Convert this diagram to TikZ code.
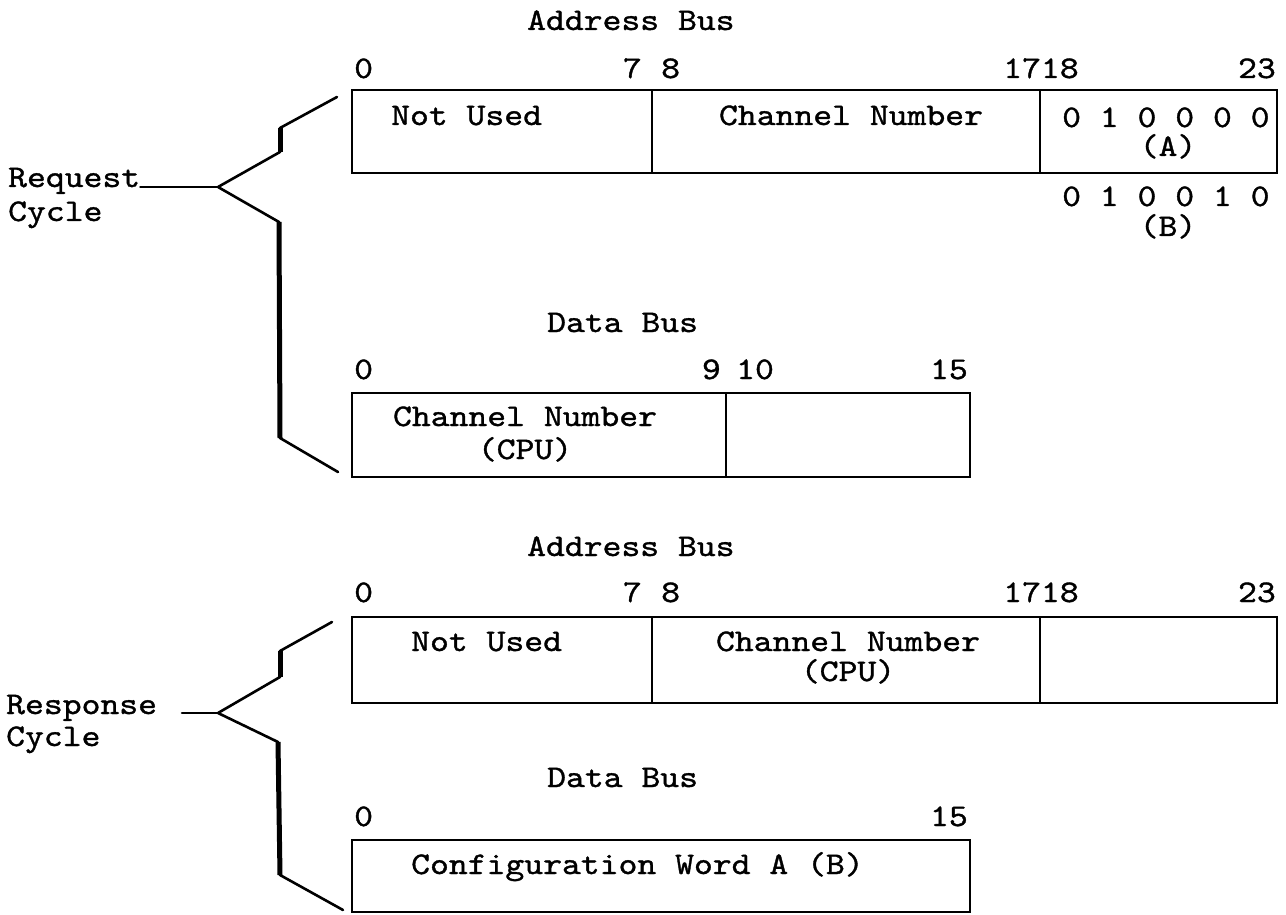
\documentclass[tikz,border=0pt]{standalone}
\usepackage{fontspec}
\newfontfamily\typefont{lmmono10-regular}[Extension=.otf,FakeStretch=1.14,FakeBold=1.1]

\begin{document}
\begin{tikzpicture}[x=1pt,y=1pt,yscale=-1,xscale=1,
  cell/.style={draw,line width=2.7pt,inner sep=0pt,outer sep=0pt,anchor=north west},
  txt/.style={font=\typefont\fontsize{31.5}{34}\selectfont,inner sep=0pt,anchor=base},
  arm/.style={line width=2.6pt,line cap=round,line join=round},
  stem/.style={line width=5pt}]
\useasboundingbox (0,0) rectangle (1286,915);
%Shape: Rectangle (request, address bus)
\node[cell,minimum width=300pt,minimum height=83pt] (rqnu) at (352,90) {};
\node[cell,minimum width=388pt,minimum height=83pt] (rqch) at (652,90) {};
\node[cell,minimum width=237pt,minimum height=83pt] (rqfn) at (1040,90) {};
%Shape: Rectangle (request, data bus)
\node[cell,minimum width=374pt,minimum height=84pt] (rqdc) at (352,393) {};
\node[cell,minimum width=244pt,minimum height=84pt] (rqdx) at (726,393) {};
%Shape: Rectangle (response, address bus)
\node[cell,minimum width=300pt,minimum height=86pt] (rsnu) at (352,617) {};
\node[cell,minimum width=388pt,minimum height=86pt] (rsch) at (652,617) {};
\node[cell,minimum width=237pt,minimum height=86pt] (rsfn) at (1040,617) {};
%Shape: Rectangle (response, data bus)
\node[cell,minimum width=618pt,minimum height=72pt] (rsdw) at (352,840) {};

% Text Node
\node[txt,anchor=base west] (rqab) at (527,30) {Address Bus};
\node[txt,anchor=base west] (rqb0) at (354,78) {0};
\node[txt,anchor=base east] (rqb7) at (642,78) {7};
\node[txt,anchor=base west] (rqb8) at (661,78) {8};
\node[txt] (rqb17) at (1041,78) {1718};
\node[txt,anchor=base east] (rqb23) at (1276,78) {23};
\node[txt,anchor=base west] at (391,125) {Not Used};
\node[txt] at (851,125) {Channel Number};
\node[txt,anchor=base west] (rqfa) at (1062,127) {0 1 0 0 0 0};
\node[txt] at (1168,156) {(A)};
\node[txt,anchor=base west] (rqfb) at (1062,206) {0 1 0 0 1 0};
\node[txt] at (1168,236) {(B)};
% Text Node
\node[txt,anchor=base west] (rqdb) at (547,332) {Data Bus};
\node[txt,anchor=base west] (rqd0) at (354,379) {0};
\node[txt,anchor=base east] (rqd9) at (721,379) {9};
\node[txt,anchor=base west] (rqd10) at (736,379) {10};
\node[txt,anchor=base east] (rqd15) at (968,379) {15};
\node[txt] at (525,426) {Channel Number};
\node[txt] at (525,459) {(CPU)};
% Text Node
\node[txt,anchor=base west] (rsab) at (527,556) {Address Bus};
\node[txt,anchor=base west] (rsb0) at (354,602) {0};
\node[txt,anchor=base east] (rsb7) at (642,602) {7};
\node[txt,anchor=base west] (rsb8) at (661,602) {8};
\node[txt] (rsb17) at (1041,602) {1718};
\node[txt,anchor=base east] (rsb23) at (1276,602) {23};
\node[txt,anchor=base west] at (411,651) {Not Used};
\node[txt] at (848,651) {Channel Number};
\node[txt] at (848,681) {(CPU)};
% Text Node
\node[txt,anchor=base west] (rsdb) at (547,787) {Data Bus};
\node[txt,anchor=base west] (rsd0) at (354,826) {0};
\node[txt,anchor=base east] (rsd15) at (968,826) {15};
\node[txt,anchor=base west] at (411,874) {Configuration Word A (B)};
% Text Node
\node[txt,anchor=base west] (rqlb) at (8,187) {Request};
\node[txt,anchor=base west] at (8,221) {Cycle};
\node[txt,anchor=base west] (rslb) at (6,714) {Response};
\node[txt,anchor=base west] at (6,746) {Cycle};

%Straight Lines (request bracket)
\coordinate (rqfk) at (218,187);
\coordinate (rqu1) at (280,152);
\coordinate (rqu2) at (280,128);
\coordinate (rqu3) at (337,97);
\coordinate (rql1) at (279,222);
\coordinate (rql2) at (280,438);
\coordinate (rql3) at (338,472);
\draw[arm] (rqu3) -- (rqu2) -- (rqu1) -- (rqfk) -- (rql1) -- (rql2) -- (rql3);
\draw[stem] (rqu2) -- (rqu1);
\draw[stem] (rql1) -- (rql2);
\draw[arm] (rqlb.base east) -- (rqfk);
%Straight Lines (response bracket)
\coordinate (rsst) at (182,713);
\coordinate (rsfk) at (218,713);
\coordinate (rsu1) at (280,677);
\coordinate (rsu2) at (280,651);
\coordinate (rsu3) at (332,622);
\coordinate (rsl1) at (278,742);
\coordinate (rsl2) at (280,875);
\coordinate (rsl3) at (343,910);
\draw[arm] (rsu3) -- (rsu2) -- (rsu1) -- (rsfk) -- (rsl1) -- (rsl2) -- (rsl3);
\draw[stem] (rsu2) -- (rsu1);
\draw[stem] (rsl1) -- (rsl2);
\draw[arm] (rsst) -- (rsfk);
\end{tikzpicture}
\end{document}
